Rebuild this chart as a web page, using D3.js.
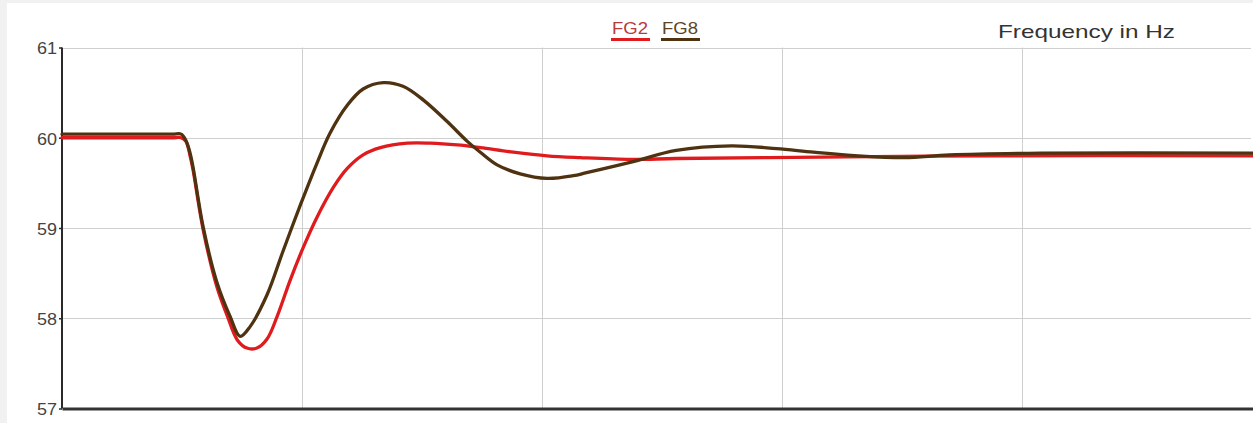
<!DOCTYPE html>
<html>
<head>
<meta charset="utf-8">
<script src="https://cdn.jsdelivr.net/npm/d3@7"></script>
<style>
  html, body { margin: 0; padding: 0; background: #f1f1f1; }
  svg { display: block; }
  text { font-family: "Liberation Sans", Arial, Helvetica, sans-serif; }
</style>
</head>
<body>
<svg id="chart" width="1253" height="423"></svg>
<script>
// Time in seconds after start of record
const fg2Time = [0, 1.2, 2.3, 2.48, 2.58, 2.667, 2.73, 2.94, 3.23, 3.44, 3.65, 3.85, 4.06, 4.27, 4.48, 4.75, 5.02, 5.31, 5.65, 5.94, 6.27, 6.63, 7.19, 7.67, 8.23, 8.71, 9.40, 10.1, 10.79, 11.85, 12.79, 14.69, 19.44, 24.8];
const fg2Hz   = [60.00, 60.00, 60.00, 60.00, 59.96, 59.80, 59.64, 58.98, 58.34, 58.03, 57.76, 57.67, 57.67, 57.77, 58.02, 58.42, 58.78, 59.12, 59.45, 59.66, 59.81, 59.89, 59.94, 59.94, 59.92, 59.89, 59.84, 59.80, 59.78, 59.76, 59.77, 59.78, 59.80, 59.80];

const fg8Time = [0, 1.2, 2.3, 2.48, 2.58, 2.667, 2.73, 2.94, 3.23, 3.5, 3.71, 3.92, 4.27, 4.60, 4.96, 5.31, 5.58, 5.94, 6.27, 6.69, 7.10, 7.52, 8.02, 8.44, 8.71, 9.06, 9.54, 10.1, 10.65, 10.9, 11.85, 12.79, 13.94, 14.88, 15.65, 16.58, 17.54, 18.48, 20.38, 24.8];
const fg8Hz   = [60.04, 60.04, 60.04, 60.04, 59.97, 59.83, 59.67, 59.01, 58.39, 58.02, 57.80, 57.91, 58.26, 58.74, 59.25, 59.72, 60.05, 60.36, 60.54, 60.61, 60.57, 60.42, 60.18, 59.96, 59.84, 59.70, 59.60, 59.55, 59.58, 59.61, 59.73, 59.86, 59.91, 59.88, 59.84, 59.80, 59.78, 59.81, 59.83, 59.83];

const yTicks = [57, 58, 59, 60, 61];
const xGrid  = [5, 10, 15, 20];

const seriesNames  = ["FG2", "FG8"];
const seriesColors = ["#e01b1e", "#4f3210"];
const legendTextColors = ["#b83a3a", "#5e4422"];
const chartTitle = "Frequency in Hz";

const svg = d3.select("#chart");
const W = 1253, H = 423;
const m = { left: 62, top: 47.5, right: 0, bottom: 14.5 };

// white panel
svg.append("rect").attr("x", 7).attr("y", 3).attr("width", W - 7).attr("height", H - 3).attr("fill", "#ffffff");

const x = d3.scaleLinear().domain([0, 24.8]).range([m.left, W - m.right]);
const y = d3.scaleLinear().domain([57, 61]).range([H - m.bottom, m.top]);

// grid
const grid = svg.append("g").attr("stroke", "#cfcfcf").attr("stroke-width", 1);
grid.selectAll("line.h").data(yTicks.filter(d => d > 57)).join("line")
  .attr("class", "h")
  .attr("x1", m.left).attr("x2", W - 2)
  .attr("y1", d => Math.round(y(d)) + 0.5).attr("y2", d => Math.round(y(d)) + 0.5);
grid.selectAll("line.v").data(xGrid).join("line")
  .attr("class", "v")
  .attr("x1", d => Math.round(x(d)) + 0.5).attr("x2", d => Math.round(x(d)) + 0.5)
  .attr("y1", m.top).attr("y2", H - m.bottom);

// y axis
const yAxis = d3.axisLeft(y).tickValues(yTicks).tickSize(3).tickFormat(d3.format("d"));
const gy = svg.append("g").attr("transform", `translate(${m.left},0)`).call(yAxis);
gy.select(".domain").attr("stroke", "#2a2a2a").attr("stroke-width", 2).attr("d", `M0,${m.top}V${H - m.bottom}`);
gy.selectAll(".tick line").attr("stroke", "#2a2a2a").attr("stroke-width", 1.5);
gy.selectAll(".tick text")
  .attr("x", -5).attr("dy", "0.4em")
  .attr("font-size", 16).attr("fill", "#444")
  .attr("textLength", 20).attr("lengthAdjust", "spacingAndGlyphs");

// x axis line (no labels)
const xAxis = d3.axisBottom(x).tickValues([]).tickSizeOuter(0);
const gx = svg.append("g").attr("transform", `translate(0,${H - m.bottom})`).call(xAxis);
gx.select(".domain").attr("stroke", "#333").attr("stroke-width", 3);

// series
const line = d3.line().curve(d3.curveCatmullRom.alpha(0.5)).x(d => x(d[0])).y(d => y(d[1]));
const series = [
  d3.zip(fg2Time, fg2Hz),
  d3.zip(fg8Time, fg8Hz)
];
svg.append("g").selectAll("path").data(series).join("path")
  .attr("d", line)
  .attr("fill", "none")
  .attr("stroke", (d, i) => seriesColors[i])
  .attr("stroke-width", 3.3)
  .attr("stroke-linejoin", "round")
  .attr("stroke-linecap", "round");

// legend
const legendX = [611, 661];
const lg = svg.append("g");
seriesNames.forEach((name, i) => {
  lg.append("text").attr("x", legendX[i] + 1).attr("y", 34)
    .attr("font-size", 16).attr("fill", legendTextColors[i])
    .attr("textLength", 36).attr("lengthAdjust", "spacingAndGlyphs")
    .text(name);
  lg.append("line")
    .attr("x1", legendX[i]).attr("x2", legendX[i] + 39)
    .attr("y1", 39.5).attr("y2", 39.5)
    .attr("stroke", seriesColors[i]).attr("stroke-width", 3);
});

// title
svg.append("text").attr("x", 998).attr("y", 38)
  .attr("font-size", 19).attr("fill", "#333")
  .attr("textLength", 177).attr("lengthAdjust", "spacingAndGlyphs")
  .text(chartTitle);
</script>
</body>
</html>
